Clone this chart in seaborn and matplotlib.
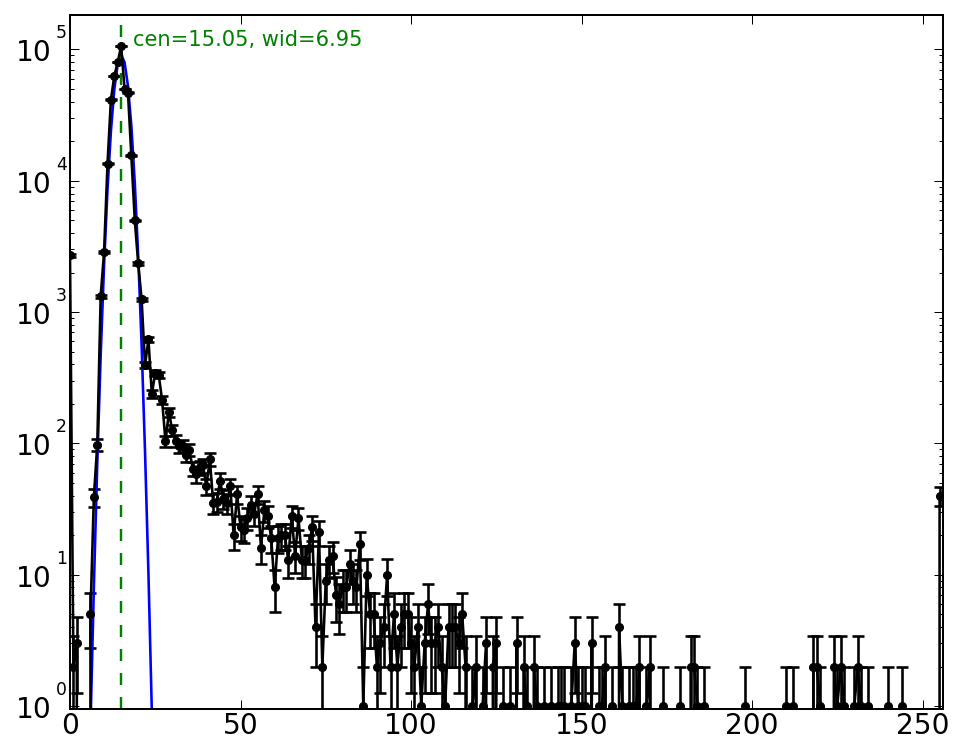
import numpy as np
import matplotlib
matplotlib.use("Agg")
import matplotlib.pyplot as plt
import matplotlib.transforms as mtransforms
from matplotlib.ticker import NullFormatter
import seaborn as sns

# ---- data ----
bins = list(range(256))
counts = [
    2700, 2, 3, 0, 0, 0, 5, 39, 98, 1320, 2880, 13500, 41400, 63000, 80000, 106000,
    50000, 47000, 15600, 5000, 2350, 1250, 395, 620, 238, 345, 333, 215, 104, 173, 126, 105,
    95, 96, 81, 89, 64, 58, 66, 68, 47, 76, 35, 36, 52, 38, 35, 47,
    20, 41, 23, 22, 27, 34, 29, 41, 16, 31, 28, 19, 8, 19, 20, 20,
    13, 28, 14, 27, 13, 13, 16, 23, 4, 21, 2, 9, 13, 14, 7, 6,
    8, 8, 12, 9, 8, 17, 1, 10, 5, 5, 2, 3, 4, 10, 2, 5,
    2, 4, 5, 5, 3, 2, 4, 1, 3, 6, 3, 3, 4, 2, 1, 4,
    4, 4, 3, 5, 2, 0, 1, 2, 0, 1, 3, 0, 2, 3, 0, 1,
    0, 1, 0, 3, 0, 2, 1, 0, 2, 1, 0, 1, 0, 1, 0, 1,
    1, 1, 0, 1, 3, 1, 1, 1, 0, 3, 0, 1, 1, 2, 0, 1,
    0, 4, 1, 0, 1, 1, 1, 2, 0, 1, 2, 0, 0, 0, 1, 0,
    0, 0, 0, 1, 0, 0, 2, 2, 1, 0, 1, 0, 0, 0, 0, 0,
    0, 0, 0, 0, 0, 0, 1, 0, 0, 0, 0, 0, 0, 0, 0, 0,
    0, 0, 1, 0, 1, 0, 0, 0, 0, 0, 2, 2, 1, 0, 0, 0,
    2, 1, 2, 1, 0, 0, 1, 2, 1, 0, 1, 0, 0, 0, 0, 0,
    1, 0, 0, 0, 1, 0, 0, 0, 0, 0, 0, 0, 0, 0, 0, 40,
]
count_errors = [c ** 0.5 for c in counts]

# Gaussian fit curve values at the bins
fit_x = list(range(5, 26))
fit_y = [0.045, 0.69, 8.1, 71, 469, 2320, 8590, 23850, 49700, 77600, 91000,
         79900, 52700, 26000, 9640, 2680, 559, 87, 10.3, 0.9, 0.06]

cen = 15.05
wid = 6.95
label_text = "cen=%.2f, wid=%.2f" % (cen, wid)
xtick_values = [0, 50, 100, 150, 200, 250]
ytick_exponents = [0, 1, 2, 3, 4, 5]

# ---- style ----
plt.style.use("classic")
plt.rcParams.update({
    "figure.facecolor": "white",
    "savefig.facecolor": "white",
    "font.size": 14,
    "xtick.labelsize": 14,
    "ytick.labelsize": 14,
    "font.family": ["DejaVu Sans"],
    "lines.scale_dashes": False,
    "xtick.major.size": 4.5,
    "ytick.major.size": 4.5,
    "xtick.minor.size": 2.2,
    "ytick.minor.size": 2.2,
    "xtick.major.pad": 1.5,
})

fig = plt.figure(figsize=(965 / 144, 756 / 144), dpi=144)
ax = fig.add_axes([70 / 965, 1 - 709 / 756, (943 - 70) / 965, (709 - 15) / 756])

ax.errorbar(bins, counts, yerr=count_errors, fmt="k.-", capsize=3.2,
            lw=1.3, elinewidth=1.3, capthick=1.3, ms=8)
sns.lineplot(x=fit_x, y=fit_y, color="blue", lw=1.3, estimator=None, ax=ax,
             legend=False)
ax.axvline(cen, color="green", lw=1.2, dashes=(6, 6))
ax.text(cen + wid / 2, 106000, label_text, color="green", fontsize=10.5,
        va="baseline", ha="left")

ax.set_yscale("log")
ax.set_xlim(0, 256)
ax.set_ylim(0.95, 1.83e5)
ax.set_xlabel("")
ax.set_ylabel("")
ax.set_xticks(xtick_values)
ax.set_yticks([10.0 ** e for e in ytick_exponents])
ax.yaxis.set_major_formatter(NullFormatter())
ax.yaxis.set_minor_formatter(NullFormatter())

# y tick labels in the old "10 + raised exponent" look
blend = mtransforms.blended_transform_factory(ax.transAxes, ax.transData)
base_tr = mtransforms.offset_copy(blend, fig=fig, x=-18, y=-4, units="dots")
exp_tr = mtransforms.offset_copy(blend, fig=fig, x=-14, y=16, units="dots")
for e in ytick_exponents:
    ax.text(0, 10.0 ** e, "10", transform=base_tr, ha="right", va="center",
            fontsize=14, clip_on=False)
    ax.text(0, 10.0 ** e, "%d" % e, transform=exp_tr, ha="left", va="center",
            fontsize=8.6, clip_on=False)

fig.savefig("out.png", dpi=144)
